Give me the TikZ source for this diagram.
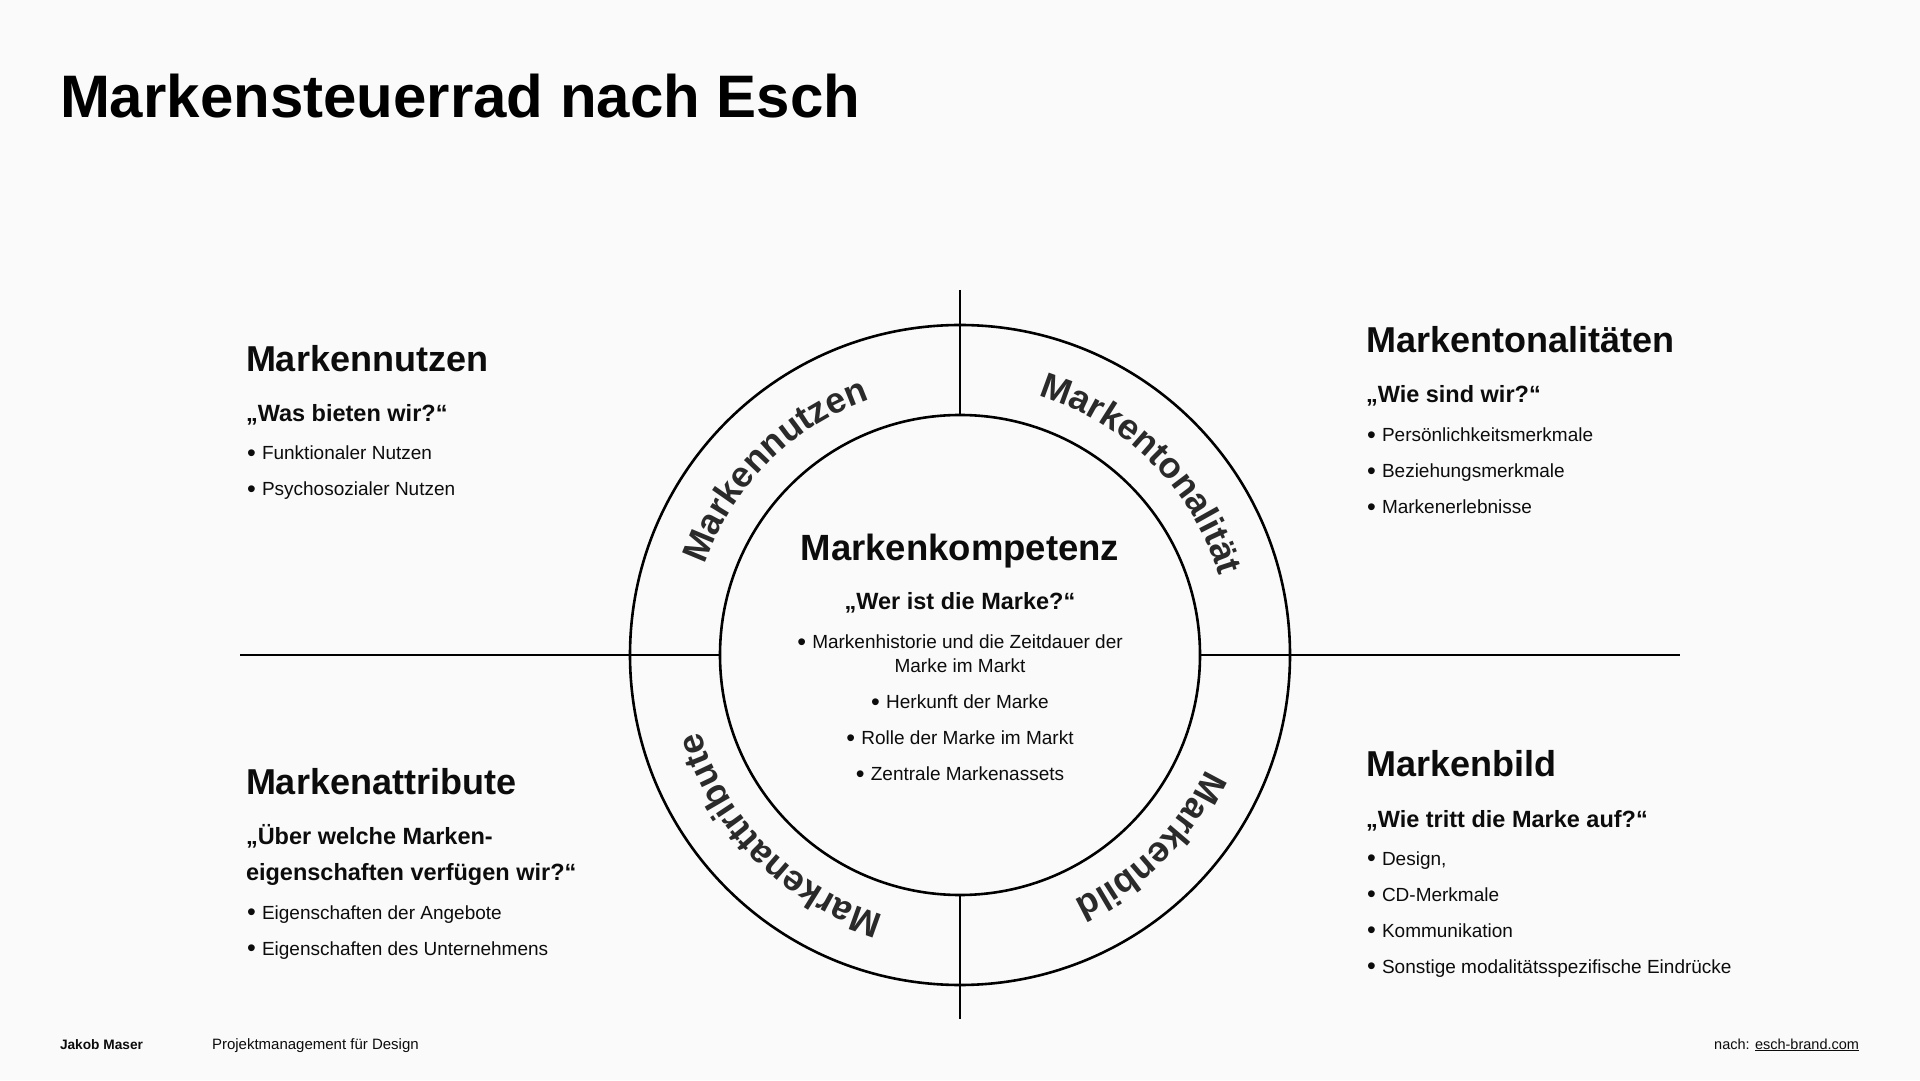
\documentclass[tikz,border=0pt]{standalone}
\usepackage{fontspec}
\setmainfont{Liberation Sans}
\usetikzlibrary{decorations.text,calc}
\definecolor{bgc}{RGB}{250,250,250}
\definecolor{ink}{RGB}{12,12,12}
\definecolor{arcink}{RGB}{42,42,42}
\newcommand{\fs}[1]{\fontsize{#1}{#1}\selectfont}
\newcommand{\bul}{\makebox[15pt][l]{\raisebox{-1.6pt}{\fontsize{25}{25}\selectfont •}}}
\begin{document}
\begin{tikzpicture}[x=1pt,y=1pt,
  txt/.style={inner sep=0pt, outer sep=0pt, anchor=base west, text=ink},
  head/.style={txt, font=\fs{36}\bfseries},
  quest/.style={txt, font=\fs{23.5}\bfseries},
  item/.style={txt, font=\fs{19}},
  citem/.style={item, anchor=base},
  ring/.style={circle, draw=black, line width=2.6pt, inner sep=0pt, outer sep=0pt},
  spoke/.style={draw=black, line width=2.6pt},
  arctext/.style={decorate, decoration={text along path, text align=center, text color=arcink, text={|\fs{36}\bfseries|#1}}}
]
\fill[bgc] (0,0) rectangle (1920,1080);
\useasboundingbox (0,0) rectangle (1920,1080);

% title
\node[txt, font=\fs{60}\bfseries, text=black] (title) at (60,962) {Markensteuerrad nach Esch};

% wheel
\coordinate (C) at (960,425);
\node[ring, minimum size=660pt] (outer) at (C) {};
\node[ring, minimum size=480pt] (inner) at (C) {};
\coordinate (ntop) at (960,790);
\coordinate (nbot) at (960,61);
\coordinate (wend) at (240,425);
\coordinate (eend) at (1680,425);
\draw[spoke] (ntop) -- (inner.north);
\draw[spoke] (inner.south) -- (nbot);
\draw[spoke] (wend) -- (inner.west);
\draw[spoke] (inner.east) -- (eend);

% ring labels
\path[arctext=Markennutzen] ($(C)+(200:271)$) arc[start angle=200, end angle=70, radius=271];
\path[arctext=Markentonalität] ($(C)+(110:271)$) arc[start angle=110, end angle=-20, radius=271];
\path[arctext=Markenattribute] ($(C)+(290:271)$) arc[start angle=290, end angle=160, radius=271];
\path[arctext=Markenbild] ($(C)+(380:271)$) arc[start angle=380, end angle=250, radius=271];

% centre
\node[txt, anchor=base, font=\fs{36.5}\bfseries] (kh) at (960,519) {Markenkompetenz};
\node[txt, anchor=base, font=\fs{23.5}\bfseries] (kq) at (960,470) {„Wer ist die Marke?“};
\node[citem] (k1) at (960,431) {\bul Markenhistorie und die Zeitdauer der};
\node[citem] (k1b) at (960,407) {Marke im Markt};
\node[citem] (k2) at (960,371) {\bul Herkunft der Marke};
\node[citem] (k3) at (960,335) {\bul Rolle der Marke im Markt};
\node[citem] (k4) at (960,299) {\bul Zentrale Markenassets};

% Markennutzen
\node[head] (nh) at (246,708) {Markennutzen};
\node[quest] (nq) at (246,658) {„Was bieten wir?“};
\node[item] (n1) at (247,620) {\bul Funktionaler Nutzen};
\node[item] (n2) at (247,584) {\bul Psychosozialer Nutzen};

% Markentonalitäten
\node[head] (th) at (1366,727) {Markentonalitäten};
\node[quest] (tq) at (1366,677) {„Wie sind wir?“};
\node[item] (t1) at (1367,638) {\bul Persönlichkeitsmerkmale};
\node[item] (t2) at (1367,602) {\bul Beziehungsmerkmale};
\node[item] (t3) at (1367,566) {\bul Markenerlebnisse};

% Markenattribute
\node[head] (ah) at (246,286) {Markenattribute};
\node[quest] (aq1) at (246,236) {„Über welche Marken-};
\node[quest] (aq2) at (246,200) {eigenschaften verfügen wir?“};
\node[item] (a1) at (247,161) {\bul Eigenschaften der Angebote};
\node[item] (a2) at (247,125) {\bul Eigenschaften des Unternehmens};

% Markenbild
\node[head] (bh) at (1366,303) {Markenbild};
\node[quest] (bq) at (1366,253) {„Wie tritt die Marke auf?“};
\node[item] (b1) at (1367,215) {\bul Design,};
\node[item] (b2) at (1367,179) {\bul CD-Merkmale};
\node[item] (b3) at (1367,143) {\bul Kommunikation};
\node[item] (b4) at (1367,107) {\bul Sonstige modalitätsspezifische Eindrücke};

% footer
\node[txt, font=\fs{13.7}\bfseries] (f1) at (60,31) {Jakob Maser};
\node[txt, font=\fs{15}] (f2) at (212,31) {Projektmanagement für Design};
\node[txt, anchor=base east, font=\fs{14.5}] (f3) at (1859,31) {nach: \underline{esch-brand.com}};
\end{tikzpicture}
\end{document}
